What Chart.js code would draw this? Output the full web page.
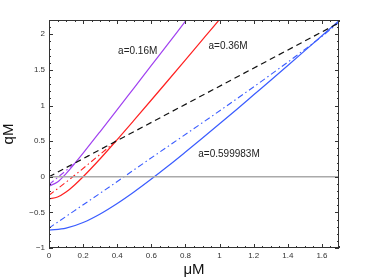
<!DOCTYPE html>
<html>
<head>
<meta charset="utf-8">
<script src="https://cdn.jsdelivr.net/npm/chart.js@4"></script>
<style>
  html, body { margin: 0; padding: 0; background: #fff; }
  #wrap { width: 374px; height: 279px; }
</style>
</head>
<body>
<div id="wrap"><canvas id="chart" width="374" height="279"></canvas></div>
<script>
// solid curves
const purpleMu = [0, 0.05, 0.1, 0.15, 0.2, 0.3, 0.4, 0.5, 0.6, 0.7, 0.8, 0.82];
const purpleQ  = [-0.13, -0.074, 0.045, 0.185, 0.332, 0.635, 0.942, 1.252, 1.562, 1.872, 2.183, 2.245];
const redMu = [0, 0.05, 0.1, 0.15, 0.2, 0.3, 0.4, 0.5, 0.6, 0.7, 0.8, 0.9, 1.0, 1.02];
const redQ  = [-0.31, -0.285, -0.214, -0.115, 0.0, 0.253, 0.522, 0.798, 1.077, 1.358, 1.641, 1.925, 2.209, 2.27];
const blueMu = [0, 0.1, 0.2, 0.3, 0.4, 0.5, 0.6, 0.7, 0.8, 0.9, 1.0, 1.1, 1.2, 1.3, 1.4, 1.5, 1.6, 1.7];
const blueQ  = [-0.75, -0.722, -0.642, -0.522, -0.375, -0.21, -0.032, 0.154, 0.347, 0.543, 0.743, 0.945, 1.15, 1.355, 1.562, 1.77, 1.979, 2.19];

// dash-dot lines
const purpleDashMu = [0, 0.16];
const purpleDashQ  = [-0.11, 0.205];
const redDashMu = [0, 0.14, 0.39];
const redDashQ  = [-0.26, 0, 0.495];
const blueDashMu = [0, 0.44, 1.6, 1.7];
const blueDashQ  = [-0.72, 0, 1.97, 2.17];

// black dashed line and zero line
const blackMu = [0, 1.7];
const blackQ  = [0, 2.16];
const zeroMu = [0, 1.7];
const zeroQ  = [0, 0];

// annotations
const noteText = ['a=0.16M', 'a=0.36M', 'a=0.599983M'];
const noteMu = [0.405, 0.935, 0.875];
const noteQ  = [1.76, 1.83, 0.31];

const pts = (xs, ys) => xs.map((x, i) => ({ x: x, y: ys[i] }));

const fmt = v => {
    const r = Math.round(v * 100) / 100;
    const s = String(Math.abs(r));
    return r < 0 ? '\u2212' + s : s;
};

// frame, inward ticks and text labels
const framePlugin = {
    id: 'frame',
    afterDatasetsDraw(chart) {
        const { ctx, chartArea: a, scales: { x, y } } = chart;
        ctx.save();
        ctx.strokeStyle = '#333';
        ctx.lineWidth = 1;
        ctx.strokeRect(a.left + 0.5, a.top + 0.5, a.right - a.left - 1, a.bottom - a.top - 1);

        ctx.beginPath();
        for (let i = 0; i <= 34; i++) {
            const v = i * 0.05;
            const px = Math.round(x.getPixelForValue(v)) + 0.5;
            const len = (i % 4 === 0) ? 4 : 2;
            ctx.moveTo(px, a.bottom); ctx.lineTo(px, a.bottom - len);
            ctx.moveTo(px, a.top); ctx.lineTo(px, a.top + len);
        }
        for (let i = 0; i <= 32; i++) {
            const v = -1 + i * 0.1;
            const py = Math.round(y.getPixelForValue(v)) + 0.5;
            const len = (i % 5 === 0) ? 4 : 2;
            ctx.moveTo(a.left, py); ctx.lineTo(a.left + len, py);
            ctx.moveTo(a.right, py); ctx.lineTo(a.right - len, py);
        }
        ctx.stroke();

        ctx.fillStyle = '#222';
        ctx.font = '10px "Liberation Sans", Arial, sans-serif';
        ctx.textBaseline = 'middle';
        ctx.textAlign = 'left';
        noteText.forEach((t, i) => {
            ctx.fillText(t, x.getPixelForValue(noteMu[i]), y.getPixelForValue(noteQ[i]));
        });
        ctx.restore();
    }
};

const line = (data, color, width, dash) => ({
    data: data,
    borderColor: color,
    borderWidth: width,
    borderDash: dash || [],
    pointRadius: 0,
    fill: false,
    tension: 0.4,
    cubicInterpolationMode: 'monotone'
});

new Chart(document.getElementById('chart').getContext('2d'), {
    type: 'line',
    data: {
        datasets: [
            line(pts(zeroMu, zeroQ), '#aaaaaa', 1.3),
            line(pts(blackMu, blackQ), '#111111', 1.2, [6, 4]),
            line(pts(purpleDashMu, purpleDashQ), '#a040f0', 1.1, [6, 3, 1.5, 3]),
            line(pts(redDashMu, redDashQ), '#ff2020', 1.1, [6, 3, 1.5, 3]),
            line(pts(blueDashMu, blueDashQ), '#3a5cff', 1.1, [6, 3, 1.5, 3]),
            line(pts(purpleMu, purpleQ), '#a040f0', 1.2),
            line(pts(redMu, redQ), '#ff2020', 1.2),
            line(pts(blueMu, blueQ), '#3a5cff', 1.2)
        ]
    },
    options: {
        responsive: false,
        animation: false,
        events: [],
        layout: { padding: { left: 0, right: 35, top: 20, bottom: 0 } },
        plugins: { legend: { display: false }, tooltip: { enabled: false } },
        scales: {
            x: {
                type: 'linear',
                min: 0,
                max: 1.7,
                grid: { display: false, drawTicks: false },
                border: { display: false },
                ticks: {
                    stepSize: 0.2,
                    includeBounds: false,
                    maxRotation: 0,
                    padding: 3,
                    color: '#333',
                    font: { family: '"Liberation Sans", Arial, sans-serif', size: 8 },
                    callback: v => fmt(v)
                },
                title: {
                    display: true,
                    text: '\u03bcM',
                    color: '#111',
                    padding: 0,
                    font: { family: '"Liberation Sans", Arial, sans-serif', size: 15 }
                },
                afterFit: s => { s.height = 31; }
            },
            y: {
                type: 'linear',
                min: -1,
                max: 2.2,
                grid: { display: false, drawTicks: false },
                border: { display: false },
                ticks: {
                    stepSize: 0.5,
                    includeBounds: false,
                    padding: 4,
                    color: '#333',
                    font: { family: '"Liberation Sans", Arial, sans-serif', size: 8 },
                    callback: v => fmt(v)
                },
                title: {
                    display: true,
                    text: 'qM',
                    color: '#111',
                    padding: { top: 0, bottom: 0 },
                    font: { family: '"Liberation Sans", Arial, sans-serif', size: 15 }
                },
                afterFit: s => { s.width = 49; }
            }
        }
    },
    plugins: [framePlugin]
});
</script>
</body>
</html>
